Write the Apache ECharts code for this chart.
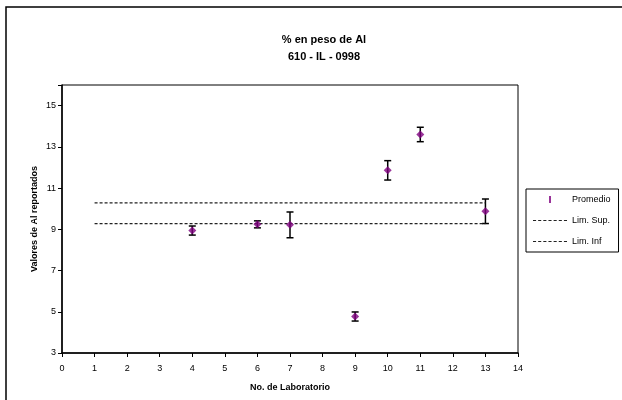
<!DOCTYPE html>
<html><head><meta charset="utf-8">
<script src="https://cdn.jsdelivr.net/npm/echarts@6/dist/echarts.min.js"></script>
<style>html,body{margin:0;padding:0;background:#fff}#c{width:622px;height:400px}</style>
</head><body><div id="c"></div>
<script>
const labs = [4, 6, 7, 9, 10, 11, 13];
const promedio = [8.94, 9.25, 9.22, 4.77, 11.86, 13.60, 9.88];
const errLow = [8.72, 9.07, 8.59, 4.55, 11.39, 13.25, 9.28];
const errHigh = [9.16, 9.41, 9.84, 4.99, 12.33, 13.95, 10.47];
const limX = [1, 13];
const limSup = [10.28, 10.28];
const limInf = [9.28, 9.28];
const xTicks = [0, 14, 1];
const yTicks = [3, 16, 2];

const FONT = '"Liberation Sans", Arial, sans-serif';
const DASH_ICON = 'path://M0,0h3v1.2h-3zM5,0h3v1.2h-3zM10,0h3v1.2h-3zM15,0h3v1.2h-3zM20,0h3v1.2h-3zM25,0h3v1.2h-3zM30,0h3v1.2h-3z';
const chart = echarts.init(document.getElementById('c'), null, {renderer: 'canvas'});
const errData = labs.map((l, i) => [l, errLow[i], errHigh[i]]);
chart.setOption({
  animation: false,
  backgroundColor: '#fff',
  textStyle: {fontFamily: FONT},
  graphic: [{type: 'rect', shape: {x: 6, y: 7, width: 640, height: 420}, style: {fill: 'none', stroke: '#000', lineWidth: 1.5}, silent: true, z: -10}],
  title: {
    text: '% en peso de Al\n610 - IL - 0998',
    left: 319, top: 26, textAlign: 'center',
    textStyle: {fontSize: 11, fontWeight: 'bold', color: '#000', lineHeight: 17, fontFamily: FONT}
  },
  grid: {left: 62, top: 85, right: 104, bottom: 47, show: true, borderColor: '#000', borderWidth: 1, containLabel: false},
  xAxis: {
    type: 'value', min: xTicks[0], max: xTicks[1], interval: xTicks[2],
    name: 'No. de Laboratorio', nameLocation: 'middle', nameGap: 30, nameMoveOverlap: false,
    nameTextStyle: {fontSize: 9, fontWeight: 'bold', color: '#000', fontFamily: FONT},
    axisLine: {show: true, lineStyle: {color: '#000', width: 1.5}},
    axisTick: {show: true, length: 4, lineStyle: {color: '#000'}},
    axisLabel: {fontSize: 9, color: '#000', margin: 11, fontFamily: FONT},
    splitLine: {show: false}
  },
  yAxis: {
    type: 'value', min: yTicks[0], max: yTicks[1], interval: yTicks[2],
    name: 'Valores de Al reportados', nameLocation: 'middle', nameGap: 23, nameMoveOverlap: false,
    nameTextStyle: {fontSize: 9, fontWeight: 'bold', color: '#000', fontFamily: FONT},
    axisLine: {show: true, lineStyle: {color: '#000', width: 1.5}},
    axisTick: {show: true, length: 4, lineStyle: {color: '#000'}},
    axisLabel: {fontSize: 9, color: '#000', margin: 6, fontFamily: FONT,
      formatter: v => (v === 16 ? '' : String(v))},
    splitLine: {show: false}
  },
  legend: {
    orient: 'vertical', left: 526, top: 189, width: 94,
    padding: [6, 8, 6, 7], itemGap: 12, itemWidth: 34, itemHeight: 7,
    borderColor: '#000', borderWidth: 1, backgroundColor: '#fff',
    textStyle: {fontSize: 9, color: '#000', fontFamily: FONT},
    data: [
      {name: 'Promedio', icon: 'path://M0,0h2v7h-2z', itemStyle: {color: '#800080'}},
      {name: 'Lim. Sup.', icon: DASH_ICON, itemStyle: {color: '#222'}},
      {name: 'Lim. Inf', icon: DASH_ICON, itemStyle: {color: '#222'}}
    ]
  },
  series: [
    {
      name: 'err', type: 'custom', data: errData, z: 2,
      encode: {x: 0, y: [1, 2]},
      renderItem: (params, api) => {
        const x = api.value(0);
        const lo = api.coord([x, api.value(1)]);
        const hi = api.coord([x, api.value(2)]);
        const w = 3.5;
        const st = {stroke: '#000', lineWidth: 1.5};
        return {type: 'group', children: [
          {type: 'line', shape: {x1: lo[0], y1: lo[1], x2: hi[0], y2: hi[1]}, style: st},
          {type: 'line', shape: {x1: lo[0] - w, y1: lo[1], x2: lo[0] + w, y2: lo[1]}, style: st},
          {type: 'line', shape: {x1: hi[0] - w, y1: hi[1], x2: hi[0] + w, y2: hi[1]}, style: st}
        ]};
      }
    },
    {
      name: 'Promedio', type: 'scatter', z: 3,
      data: labs.map((l, i) => [l, promedio[i]]),
      symbol: 'diamond', symbolSize: 8,
      itemStyle: {color: '#800080'}
    },
    {
      name: 'Lim. Sup.', type: 'line', symbol: 'none',
      data: limX.map((x, i) => [x, limSup[i]]),
      lineStyle: {color: '#222', width: 1.2, type: [3, 2]},
      itemStyle: {color: '#222'}
    },
    {
      name: 'Lim. Inf', type: 'line', symbol: 'none',
      data: limX.map((x, i) => [x, limInf[i]]),
      lineStyle: {color: '#222', width: 1.2, type: [3, 2]},
      itemStyle: {color: '#222'}
    }
  ]
});
</script></body></html>
